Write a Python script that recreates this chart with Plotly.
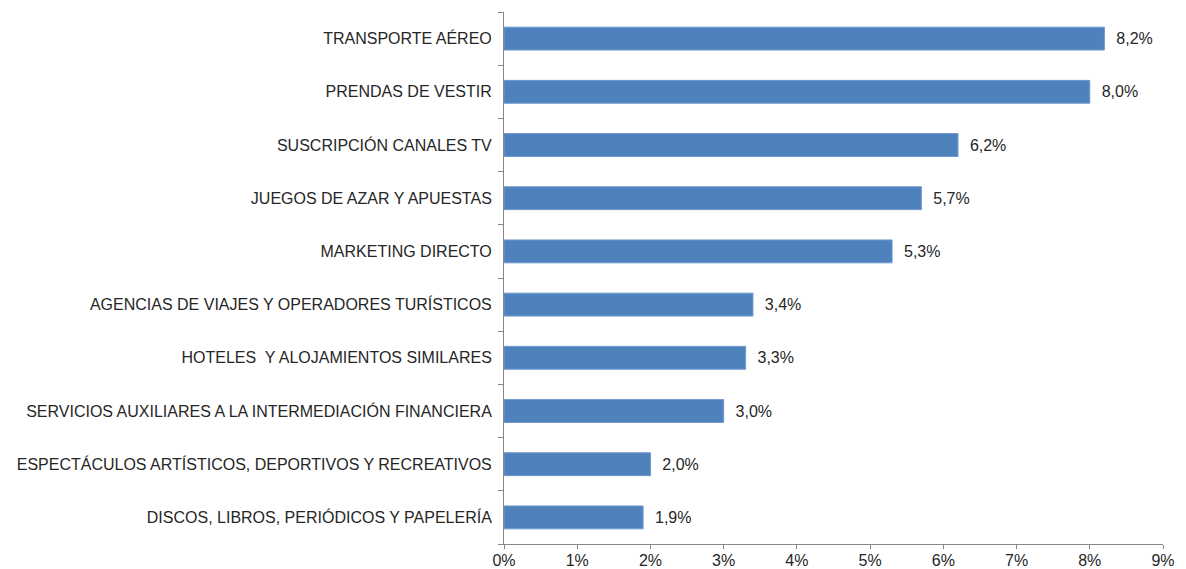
import plotly.graph_objects as go

categories = [
    "TRANSPORTE AÉREO",
    "PRENDAS DE VESTIR",
    "SUSCRIPCIÓN CANALES TV",
    "JUEGOS DE AZAR Y APUESTAS",
    "MARKETING DIRECTO",
    "AGENCIAS DE VIAJES Y OPERADORES TURÍSTICOS",
    "HOTELES  Y ALOJAMIENTOS SIMILARES",
    "SERVICIOS AUXILIARES A LA INTERMEDIACIÓN FINANCIERA",
    "ESPECTÁCULOS ARTÍSTICOS, DEPORTIVOS Y RECREATIVOS",
    "DISCOS, LIBROS, PERIÓDICOS Y PAPELERÍA",
]
values = [8.2, 8.0, 6.2, 5.7, 5.3, 3.4, 3.3, 3.0, 2.0, 1.9]
x_ticks = [0, 1, 2, 3, 4, 5, 6, 7, 8, 9]
x_tick_labels = ["0%", "1%", "2%", "3%", "4%", "5%", "6%", "7%", "8%", "9%"]

FONT = "Liberation Sans, Arial"

fig = go.Figure(
    go.Bar(
        y=categories,
        x=values,
        orientation="h",
        width=0.43,
        marker=dict(color="#4F81BD", line=dict(color="#6F9AD0", width=1)),
        texttemplate="\u00a0\u00a0%{x:.1f}%",
        textposition="outside",
        cliponaxis=False,
        textfont=dict(family=FONT, size=16, color="#262626"),
    )
)

# page body has an 8px margin: figure sized/offset to compensate
fig.update_layout(
    width=1178,
    height=561,
    margin=dict(l=496, r=23, t=4, b=25),
    plot_bgcolor="white",
    paper_bgcolor="white",
    separators=",.",
    showlegend=False,
    font=dict(family=FONT, size=16, color="#262626"),
)
fig.update_xaxes(
    range=[0, 9],
    tickvals=x_ticks,
    ticktext=x_tick_labels,
    showgrid=False,
    zeroline=False,
    showline=True,
    linecolor="#868686",
    linewidth=1,
    ticks="outside",
    ticklen=4,
    tickcolor="#868686",
    tickfont=dict(size=16),
    ticklabelstandoff=-2,
    automargin=False,
)
fig.update_yaxes(
    categoryorder="array",
    categoryarray=categories[::-1],
    autorange=True,
    showgrid=False,
    showline=True,
    linecolor="#868686",
    linewidth=1,
    ticks="outside",
    tickson="boundaries",
    ticklen=5,
    tickcolor="#868686",
    tickfont=dict(size=16),
    ticklabelstandoff=8,
    automargin=False,
)

fig.write_html("out.html")
